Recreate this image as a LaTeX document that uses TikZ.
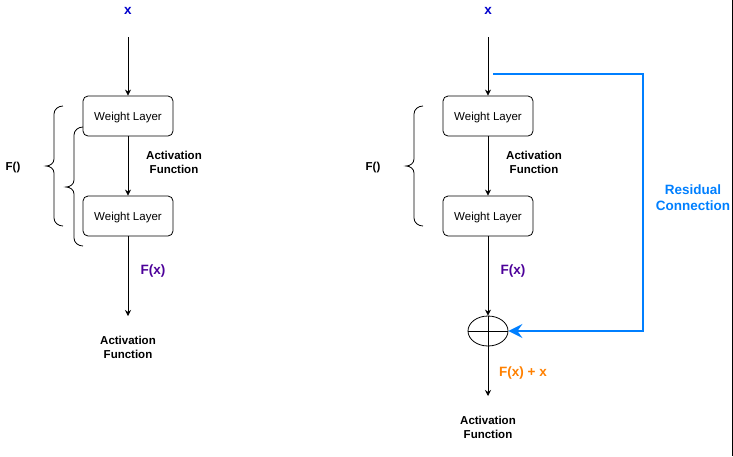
\documentclass[tikz,border=0pt]{standalone}
\usepackage{fontspec}
\setmainfont{Liberation Sans}
\usetikzlibrary{arrows.meta,shapes.geometric}
\definecolor{xblue}{HTML}{0000CC}
\definecolor{fpurple}{HTML}{4C0099}
\definecolor{resblue}{HTML}{007FFF}
\definecolor{sumorange}{HTML}{FF8000}
\tikzset{
  wl/.style={draw, rounded corners=5pt, minimum width=90pt, minimum height=40pt, inner sep=0pt, font=\fontsize{11.5}{14}\selectfont, line width=0.8pt},
  wlt/.style={inner sep=0pt, font=\fontsize{11.5}{14}\selectfont},
  lbl/.style={font=\bfseries\fontsize{11.5}{14}\selectfont, align=center, inner sep=0pt, yshift=-1.5pt},
  big/.style={font=\bfseries\fontsize{13.5}{16}\selectfont},
  arr/.style={line width=0.8pt, -{Stealth[length=6pt,width=6pt]}},
  br/.style={line width=0.8pt},
  res/.style={draw=resblue, line width=2.6pt},
}
\begin{document}
\begin{tikzpicture}[x=1pt,y=-1pt]
\useasboundingbox (0,0) rectangle (733,456);
% ---------- left ----------
\node[lbl, text=xblue, big] (lx) at (128,9) {x};
\coordinate (lxs) at (128,37);
\node[wl] (lw1) at (128,116) {};
\node[wlt] (lw1t) at (128,117.5) {Weight Layer};
\node[wl] (lw2) at (128,216) {};
\node[wlt] (lw2t) at (128,217.5) {Weight Layer};
\node[lbl] (la1) at (174,161) {Activation\\Function};
\node[lbl, text=fpurple, big] (lfx) at (153,270) {F(x)};
\coordinate (lend) at (128,316);
\node[lbl] (la2) at (128,346) {Activation\\Function};
\node[lbl] (lf) at (13,166) {F()};
\draw[arr] (lxs) -- (lw1.north);
\draw[arr] (lw1.south) -- (lw2.north);
\draw[arr] (lw2.south) -- (lend);
\draw[br] (63,106) to[out=180,in=90] (54,114) -- (54,159) to[out=-90,in=0] (46,166) to[out=0,in=90] (54,173) -- (54,218) to[out=-90,in=180] (63,226);
\draw[br] (83,127) to[out=180,in=90] (74,135) -- (74,180) to[out=-90,in=0] (66,187) to[out=0,in=90] (74,194) -- (74,238) to[out=-90,in=180] (83,246);
% ---------- right ----------
\node[lbl, text=xblue, big] (rx) at (488,9) {x};
\coordinate (rxs) at (488,37);
\node[wl] (rw1) at (488,116) {};
\node[wlt] (rw1t) at (488,117.5) {Weight Layer};
\node[wl] (rw2) at (488,216) {};
\node[wlt] (rw2t) at (488,217.5) {Weight Layer};
\node[lbl] (ra1) at (534,161) {Activation\\Function};
\node[lbl, text=fpurple, big] (rfx) at (513,270) {F(x)};
\node[draw, ellipse, minimum width=40pt, minimum height=30pt, inner sep=0pt, line width=0.8pt] (sum) at (488,331) {};
\draw[line width=0.8pt] (sum.west) -- (sum.east) (sum.north) -- (sum.south);
\node[lbl, text=sumorange, big] (rfxx) at (523,371) {F(x) + x};
\coordinate (rend) at (488,396);
\node[lbl] (ra2) at (488,426) {Activation\\Function};
\node[lbl] (rf) at (373,166) {F()};
\draw[arr] (rxs) -- (rw1.north);
\draw[arr] (rw1.south) -- (rw2.north);
\draw[arr] (rw2.south) -- (sum.north);
\draw[arr] (sum.south) -- (rend);
\draw[br] (423,106) to[out=180,in=90] (414,114) -- (414,159) to[out=-90,in=0] (406,166) to[out=0,in=90] (414,173) -- (414,218) to[out=-90,in=180] (423,226);
% residual
\coordinate (rs) at (493,74);
\coordinate (rc) at (643,74);
\draw[res, -{Stealth[length=14pt,width=14pt,inset=5pt]}] (rs) -- (rc) |- (sum.east);
\node[lbl, text=resblue, big] (rl) at (693,196) {Residual\\Connection};
% right edge line
\draw[line width=0.8pt] (732,0) -- (732,456);
\end{tikzpicture}
\end{document}
